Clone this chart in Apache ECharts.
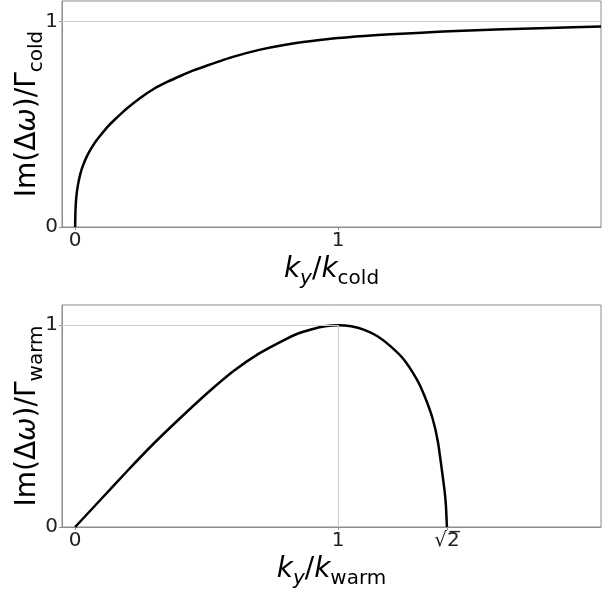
<!DOCTYPE html>
<html>
<head>
<meta charset="utf-8">
<script src="https://cdn.jsdelivr.net/npm/echarts@6/dist/echarts.min.js"></script>
<style>
  html, body { margin: 0; padding: 0; background: #fff; }
  #chart { width: 605px; height: 595px; }
</style>
</head>
<body>
<div id="chart"></div>
<script>
// top panel: cold
const coldK = [0, 0.001, 0.004, 0.01, 0.02, 0.03, 0.045, 0.06, 0.08, 0.1, 0.125, 0.15, 0.175, 0.2, 0.25, 0.3, 0.35, 0.4, 0.45, 0.5, 0.6, 0.7, 0.8, 0.9, 1.0, 1.1, 1.2, 1.4, 1.6, 1.8, 2.0]
const coldG = [0, 0.07, 0.14, 0.2, 0.26, 0.3, 0.345, 0.38, 0.42, 0.452, 0.49, 0.522, 0.552, 0.58, 0.63, 0.673, 0.706, 0.735, 0.762, 0.785, 0.828, 0.862, 0.887, 0.905, 0.92, 0.93, 0.938, 0.951, 0.961, 0.969, 0.976]
// bottom panel: warm
const warmK = [0, 0.1, 0.2, 0.3, 0.4, 0.5, 0.6, 0.7, 0.8, 0.85, 0.9, 0.95, 1.0, 1.05, 1.1, 1.15, 1.2, 1.25, 1.3, 1.33, 1.36, 1.38, 1.395, 1.405, 1.41, 1.414]
const warmG = [0, 0.14, 0.28, 0.415, 0.54, 0.66, 0.77, 0.86, 0.93, 0.96, 0.98, 0.995, 1.0, 0.995, 0.977, 0.945, 0.895, 0.83, 0.73, 0.645, 0.535, 0.42, 0.28, 0.18, 0.11, 0]

const coldTicks = [0, 1]
const coldTickLabels = ["0", "1"]
const warmTicks = [0, 1, 1.4142]
const warmTickLabels = ["0", "1", "√2\u0305"]
const yTicks = [0, 1]

const font = "DejaVu Sans"
const spine = "#8c8c8c"

const rich = {
  r: { fontSize: 28, fontFamily: font, color: "#000", lineHeight: 38 },
  i: { fontSize: 28, fontFamily: font, fontStyle: "italic", color: "#000", lineHeight: 38 },
  s: { fontSize: 20, fontFamily: font, color: "#000", lineHeight: 20, verticalAlign: "bottom" },
  si: { fontSize: 20, fontFamily: font, fontStyle: "italic", color: "#000", lineHeight: 20, verticalAlign: "bottom" }
}

function xAxisFor(grid, ticks, labels, sub) {
  return {
    gridIndex: grid,
    type: "value",
    min: -0.05,
    max: 2,
    axisLine: { onZero: false, lineStyle: { color: spine, width: 1 } },
    axisTick: { customValues: ticks, length: 3, lineStyle: { color: spine } },
    axisLabel: {
      customValues: ticks,
      fontSize: 20,
      fontFamily: font,
      color: "#222",
      margin: 4,
      formatter: function (v) {
        let i = ticks.indexOf(v)
        return i >= 0 ? labels[i] : ""
      }
    },
    splitLine: { show: false },
    name: "{i|k}{si|y}{r|/}{i|k}{s|" + sub + "}",
    nameLocation: "middle",
    nameGap: 24,
    nameMoveOverlap: false,
    nameTextStyle: { rich: rich }
  }
}

function yAxisFor(grid, sub) {
  return {
    gridIndex: grid,
    type: "value",
    min: 0,
    max: 1.1,
    axisLine: { onZero: false, lineStyle: { color: spine, width: 1 } },
    axisTick: { customValues: yTicks, length: 3, lineStyle: { color: spine } },
    axisLabel: {
      customValues: yTicks,
      fontSize: 20,
      fontFamily: font,
      color: "#222",
      margin: 4
    },
    splitLine: { show: false },
    name: "{r|Im(Δ}{i|ω}{r|)/Γ}{s|" + sub + "}",
    nameLocation: "middle",
    nameGap: 15,
    nameMoveOverlap: false,
    nameTextStyle: { rich: rich }
  }
}

// peak of the warm curve, for the guide lines
let peak = 0
warmG.forEach((g, i) => { if (g > warmG[peak]) peak = i })
const peakK = warmK[peak]
const peakG = warmG[peak]

const guide = { color: "#cccccc", width: 1, type: "solid" }

const option = {
  animation: false,
  backgroundColor: "#fff",
  grid: [
    { left: 62, top: 1, right: 4, height: 226, show: true, borderColor: spine, borderWidth: 1, outerBoundsMode: "none", containLabel: false },
    { left: 62, top: 305, right: 4, height: 222, show: true, borderColor: spine, borderWidth: 1, outerBoundsMode: "none", containLabel: false }
  ],
  xAxis: [
    xAxisFor(0, coldTicks, coldTickLabels, "cold"),
    xAxisFor(1, warmTicks, warmTickLabels, "warm")
  ],
  yAxis: [yAxisFor(0, "cold"), yAxisFor(1, "warm")],
  series: [
    {
      type: "line",
      xAxisIndex: 0,
      yAxisIndex: 0,
      data: coldK.map((k, i) => [k, coldG[i]]),
      showSymbol: false,
      smooth: 0.2,
      lineStyle: { color: "#000", width: 2.5 },
      markLine: {
        silent: true,
        symbol: "none",
        label: { show: false },
        lineStyle: guide,
        data: [{ yAxis: 1 }]
      },
      z: 3
    },
    {
      type: "line",
      xAxisIndex: 1,
      yAxisIndex: 1,
      data: warmK.map((k, i) => [k, warmG[i]]),
      showSymbol: false,
      smooth: 0.2,
      lineStyle: { color: "#000", width: 2.5 },
      markLine: {
        silent: true,
        symbol: "none",
        label: { show: false },
        lineStyle: guide,
        data: [
          [{ coord: [-0.05, peakG] }, { coord: [peakK, peakG] }],
          [{ coord: [peakK, 0] }, { coord: [peakK, peakG] }]
        ]
      },
      z: 3
    }
  ]
}

const myChart = echarts.init(document.getElementById("chart"))
myChart.setOption(option)
window.addEventListener("resize", function () {
  myChart.resize()
})
</script>
</body>
</html>
